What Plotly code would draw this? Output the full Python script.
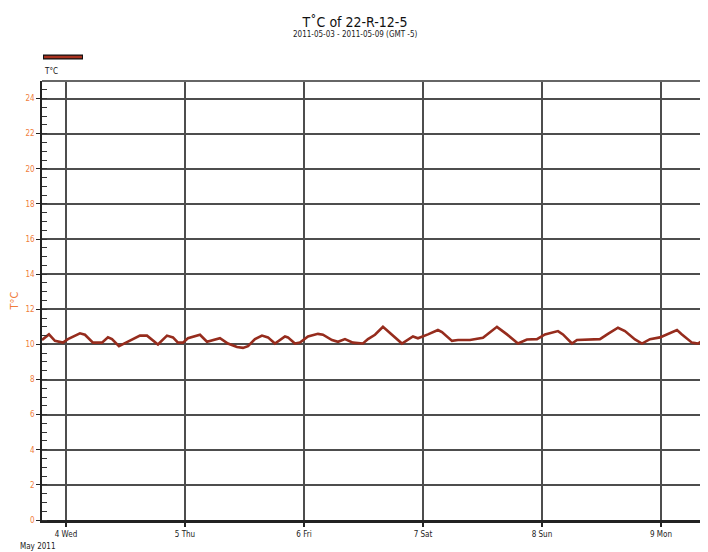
import pandas as pd
import plotly.graph_objects as go

# Hours relative to 2011-05-04 00:00 (GMT-5) and temperature readings (°C)
hours = [-4.84, -3.43, -2.22, -0.61, 0.40, 2.82, 3.83, 5.45, 7.26, 8.47, 9.28, 10.69,
         12.30, 14.92, 16.34, 18.55, 20.37, 21.58, 22.59, 23.60, 24.60, 27.03, 28.44,
         30.05, 31.06, 32.67, 34.49, 35.70, 36.71, 38.12, 39.53, 40.74, 42.15, 44.17,
         44.77, 46.18, 47.19, 48.81, 50.82, 51.83, 53.65, 54.86, 56.27, 57.88, 59.90,
         60.91, 62.32, 63.93, 65.95, 67.76, 69.98, 70.99, 73.01, 75.02, 75.83, 77.85,
         79.06, 81.48, 84.10, 86.92, 88.94, 91.16, 92.97, 94.99, 96.60, 99.23, 100.23,
         102.05, 103.06, 106.69, 107.70, 109.31, 111.33, 112.74, 114.76, 116.17, 117.78,
         119.80, 121.41, 123.23, 124.23, 126.25, 127.46, 128.87]
temps = [10.25, 10.57, 10.2, 10.1, 10.3, 10.63, 10.55, 10.1, 10.1, 10.4, 10.3, 9.9,
         10.13, 10.5, 10.5, 10.0, 10.5, 10.4, 10.1, 10.1, 10.35, 10.55, 10.15,
         10.28, 10.35, 10.05, 9.85, 9.8, 9.9, 10.3, 10.5, 10.4, 10.05, 10.45,
         10.4, 10.05, 10.1, 10.45, 10.6, 10.55, 10.25, 10.15, 10.3, 10.1, 10.05,
         10.3, 10.55, 11.0, 10.47, 10.05, 10.45, 10.35, 10.57, 10.82, 10.7, 10.2,
         10.25, 10.25, 10.38, 11.0, 10.57, 10.05, 10.28, 10.3, 10.57, 10.76, 10.57,
         10.05, 10.25, 10.3, 10.3, 10.6, 10.95, 10.76, 10.28, 10.05, 10.3,
         10.4, 10.6, 10.82, 10.57, 10.1, 10.05, 10.3]

tick_dates = ["2011-05-04", "2011-05-05", "2011-05-06", "2011-05-07", "2011-05-08", "2011-05-09"]
tick_labels = ["4 Wed", "5 Thu", "6 Fri", "7 Sat", "8 Sun", "9 Mon"]
x_range = ["2011-05-03 19:10", "2011-05-09 09:17"]
y_range = [0, 25]

base = pd.Timestamp("2011-05-04 00:00")
times = [base + pd.to_timedelta(h, unit="h") for h in hours]

LINE = "#962c1d"
ORANGE = "#f07c3c"
GRID = "#4d4d4d"
FONT = "DejaVu Sans Condensed, Roboto, Open Sans, sans-serif"

# page body adds an 8px offset, so the figure is sized/margined to compensate
PW, PH = 665, 439  # plot area size in px

fig = go.Figure()
fig.add_trace(go.Scatter(x=times, y=temps, mode="lines", name="T°C",
                         line=dict(color=LINE, width=2.6), showlegend=False))

fig.update_layout(
    width=700, height=544,
    margin=dict(l=34, r=1, t=73, b=32, autoexpand=False),
    paper_bgcolor="white", plot_bgcolor="white",
    font=dict(family=FONT, color="#222"),
    title=dict(text="T˚C of 22-R-12-5", x=(355 - 8) / 700, xref="container", xanchor="center",
               y=1 - 14 / 544, yref="container", yanchor="middle",
               font=dict(size=14, color="#111", family=FONT)),
)

fig.update_xaxes(
    type="date", range=x_range,
    tickvals=tick_dates, ticktext=tick_labels,
    showgrid=True, gridcolor=GRID, gridwidth=2,
    ticks="outside", ticklen=4, tickcolor="#222", tickwidth=2,
    showline=True, linecolor="#222", linewidth=3, mirror=False,
    tickfont=dict(size=8, color="#222", family=FONT),
    zeroline=False,
)
fig.update_yaxes(
    range=y_range, dtick=2, tick0=0,
    showgrid=True, gridcolor=GRID, gridwidth=2,
    ticks="outside", ticklen=4, tickcolor="#222",
    minor=dict(dtick=0.5, ticks="inside", ticklen=5, tickcolor="#333", showgrid=False),
    showline=True, linecolor="#222", linewidth=1.5, mirror=False,
    tickfont=dict(size=8, color=ORANGE, family=FONT),
    title=dict(text="T°C", font=dict(size=11, color=ORANGE, family=FONT), standoff=6),
    zeroline=False,
)

# frame: top and right borders
fig.add_shape(type="line", xref="paper", yref="paper", x0=0, x1=1, y0=1, y1=1,
              line=dict(color="#666", width=2))
fig.add_shape(type="line", xref="paper", yref="paper", x0=1, x1=1, y0=0, y1=1,
              line=dict(color="#666", width=2))

# legend sample
ly = (520 - 57) / PH
fig.add_shape(type="line", xref="paper", yref="paper",
              x0=1 / PW, x1=41 / PW, y0=ly, y1=ly, line=dict(color="#111", width=5))
fig.add_shape(type="line", xref="paper", yref="paper",
              x0=2 / PW, x1=40 / PW, y0=ly, y1=ly, line=dict(color="#a8321f", width=2.5))
fig.add_annotation(text="T°C", xref="paper", yref="paper", x=0, y=(520 - 72) / PH,
                   xanchor="left", yanchor="middle", showarrow=False,
                   font=dict(size=8, color="#111", family=FONT))

# subtitle
fig.add_annotation(text="2011-05-03 - 2011-05-09 (GMT -5)", xref="paper", yref="paper",
                   x=(355 - 42) / PW, y=(520 - 34) / PH, xanchor="center", yanchor="middle",
                   showarrow=False, font=dict(size=8, color="#222", family=FONT))

# month label
fig.add_annotation(text="May 2011", xref="paper", yref="paper",
                   x=-24 / PW, y=-(546 - 520) / PH, xanchor="left", yanchor="middle",
                   showarrow=False, font=dict(size=8, color="#222", family=FONT))

fig.write_html("out.html")
